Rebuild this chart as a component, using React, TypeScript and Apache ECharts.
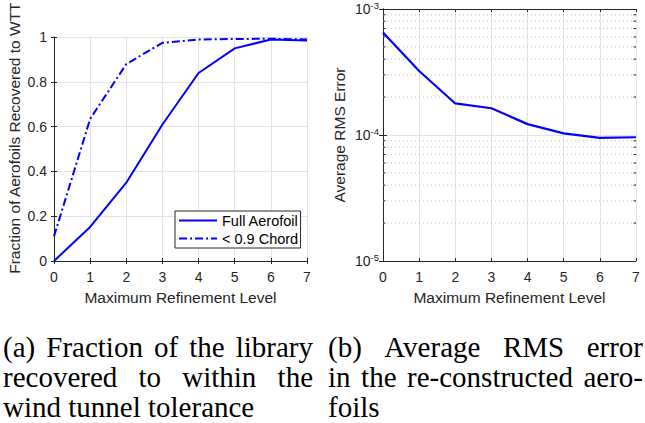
import React, { useEffect, useRef } from "react";
import * as echarts from "echarts";

// Refinement levels on the shared x axis
const levels = [0, 1, 2, 3, 4, 5, 6, 7];

// (a) Fraction of aerofoils recovered to within wind tunnel tolerance
const fullAerofoil = [0, 0.152, 0.35, 0.61, 0.84, 0.95, 0.99, 0.985];
const chordBelow09 = [0.11, 0.635, 0.88, 0.975, 0.99, 0.992, 0.993, 0.99];

// (b) Average RMS error of the reconstructed aerofoils
const rmsError = [6.5e-4, 3.22e-4, 1.78e-4, 1.63e-4, 1.22e-4, 1.03e-4, 9.5e-5, 9.6e-5];

// Minor decade positions on the log axis (2..9 x 10^k)
const minorLogTicks = [
  2e-5, 3e-5, 4e-5, 5e-5, 6e-5, 7e-5, 8e-5, 9e-5,
  2e-4, 3e-4, 4e-4, 5e-4, 6e-4, 7e-4, 8e-4, 9e-4,
];

const seriesNames = ["Full Aerofoil", "< 0.9 Chord"];
const xName = "Maximum Refinement Level";
const yNameA = "Fraction of Aerofoils Recovered to WTT";
const yNameB = "Average RMS Error";

const captionA = ["(a) Fraction of the library", "recovered to within the", "wind tunnel tolerance"];
const captionB = ["(b) Average RMS error", "in the re-constructed aero-", "foils"];

const X_MIN = 0;
const X_MAX = 7;

const SANS = '"Liberation Sans", Arial, Helvetica, sans-serif';
const SERIF = '"Liberation Serif", "Times New Roman", serif';
const AXIS = "#262626";
const GRID = "#e3e3e3";
const BLUE = "#0000ff";

const CAP_SIZE = 29;
const TICK_SIZE = 14;
const NAME_SIZE = 15.5;

function measure(text: string): number {
  const c = document.createElement("canvas").getContext("2d");
  if (!c) return text.length * CAP_SIZE * 0.45;
  c.font = `${CAP_SIZE}px ${SERIF}`;
  return c.measureText(text).width;
}

// Lay out one caption line; justified lines spread their words to fill the column
function captionLine(text: string, x0: number, x1: number, yMid: number, justify: boolean) {
  const base = {
    fontSize: CAP_SIZE,
    fontFamily: SERIF,
    fill: "#000",
    textAlign: "left",
    align: "left",
    textVerticalAlign: "middle",
    verticalAlign: "middle",
  };
  if (!justify) {
    return [{ type: "text", x: x0, y: yMid, silent: true, style: { ...base, text } }];
  }
  const words = text.split(" ");
  const widths = words.map(measure);
  const total = widths.reduce((a, b) => a + b, 0);
  const gap = words.length > 1 ? (x1 - x0 - total) / (words.length - 1) : 0;
  let x = x0;
  return words.map((w, i) => {
    const el = { type: "text", x, y: yMid, silent: true, style: { ...base, text: w } };
    x += widths[i] + gap;
    return el;
  });
}

function captionBlock(lines: string[], x0: number, x1: number, mids: number[]) {
  const out: any[] = [];
  lines.forEach((l, i) => {
    out.push(...captionLine(l, x0, x1, mids[i], i < lines.length - 1));
  });
  return out;
}

function linearAxisCommon() {
  return {
    type: "value" as const,
    axisLine: { show: true, lineStyle: { color: AXIS, width: 1 } },
    axisTick: { show: true, inside: true, length: 3, lineStyle: { color: AXIS } },
  };
}

export default function App() {
  const ref = useRef<HTMLDivElement>(null);

  useEffect(() => {
    document.body.style.margin = "0";
    if (!ref.current) return;
    const chart = echarts.init(ref.current, undefined, { renderer: "svg" });

    const labelStyle = { fontSize: TICK_SIZE, color: AXIS, fontFamily: SANS };
    const nameStyle = { fontSize: NAME_SIZE, color: AXIS, fontFamily: SANS };

    const mids = [347, 377, 407];

    const option: any = {
      animation: false,
      backgroundColor: "#ffffff",
      grid: [
        { left: 54, top: 9, width: 253, height: 252 },
        { left: 383, top: 9, width: 253, height: 252 },
      ],
      legend: {
        data: seriesNames,
        orient: "vertical",
        left: 175,
        top: 211,
        itemWidth: 38,
        itemHeight: 10,
        itemGap: 3,
        padding: [2, 2, 2, 3],
        borderColor: AXIS,
        borderWidth: 1,
        backgroundColor: "#ffffff",
        itemStyle: { color: "rgba(0,0,0,0)", borderWidth: 0, opacity: 0 },
        textStyle: { fontSize: 14.5, color: "#000", fontFamily: SANS },
      },
      xAxis: [
        {
          ...linearAxisCommon(),
          gridIndex: 0,
          min: X_MIN,
          max: X_MAX,
          interval: 1,
          axisLabel: { ...labelStyle, margin: 9 },
          splitLine: { show: true, lineStyle: { color: GRID } },
          name: xName,
          nameLocation: "middle",
          nameGap: 28,
          nameTextStyle: nameStyle,
        },
        {
          ...linearAxisCommon(),
          gridIndex: 0,
          position: "top",
          min: X_MIN,
          max: X_MAX,
          interval: 1,
          axisLabel: { show: false },
          splitLine: { show: false },
        },
        {
          ...linearAxisCommon(),
          gridIndex: 1,
          min: X_MIN,
          max: X_MAX,
          interval: 1,
          axisLabel: { ...labelStyle, margin: 9 },
          splitLine: { show: true, lineStyle: { color: GRID } },
          name: xName,
          nameLocation: "middle",
          nameGap: 28,
          nameTextStyle: nameStyle,
        },
        {
          ...linearAxisCommon(),
          gridIndex: 1,
          position: "top",
          min: X_MIN,
          max: X_MAX,
          interval: 1,
          axisLabel: { show: false },
          splitLine: { show: false },
        },
      ],
      yAxis: [
        {
          ...linearAxisCommon(),
          gridIndex: 0,
          min: 0,
          max: 1,
          interval: 0.2,
          axisLabel: {
            ...labelStyle,
            margin: 7,
            formatter: (v: number) => (v === 0 || v === 1 ? String(v) : v.toFixed(1)),
          },
          splitLine: { show: true, lineStyle: { color: GRID } },
          name: yNameA,
          nameLocation: "middle",
          nameGap: 32,
          nameTextStyle: { ...nameStyle, padding: [0, 0, 0, 22] },
        },
        {
          ...linearAxisCommon(),
          gridIndex: 0,
          position: "right",
          min: 0,
          max: 1,
          interval: 0.2,
          axisLabel: { show: false },
          splitLine: { show: false },
        },
        {
          type: "log",
          logBase: 10,
          gridIndex: 1,
          min: 1e-5,
          max: 1e-3,
          axisLine: { show: true, lineStyle: { color: AXIS, width: 1 } },
          axisTick: { show: true, inside: true, length: 4, lineStyle: { color: AXIS } },
          axisLabel: {
            ...labelStyle,
            margin: 4,
            formatter: (v: number) => `10{sup|${Math.round(Math.log10(v))}}`,
            rich: {
              sup: {
                fontSize: 9.5,
                color: AXIS,
                fontFamily: SANS,
                verticalAlign: "bottom",
                padding: [0, 0, 8, 0],
              },
            },
          },
          splitLine: { show: true, lineStyle: { color: GRID } },
          name: yNameB,
          nameLocation: "middle",
          nameGap: 36,
          nameTextStyle: nameStyle,
        },
        {
          type: "log",
          logBase: 10,
          gridIndex: 1,
          position: "right",
          min: 1e-5,
          max: 1e-3,
          axisLine: { show: true, lineStyle: { color: AXIS, width: 1 } },
          axisTick: { show: true, inside: true, length: 4, lineStyle: { color: AXIS } },
          axisLabel: { show: false },
          splitLine: { show: false },
        },
      ],
      series: [
        {
          name: seriesNames[0],
          type: "line",
          xAxisIndex: 0,
          yAxisIndex: 0,
          data: levels.map((l, i) => [l, fullAerofoil[i]]),
          symbol: "none",
          showSymbol: false,
          clip: false,
          lineStyle: { color: BLUE, width: 2, type: "solid" },
          itemStyle: { color: BLUE },
          z: 5,
        },
        {
          name: seriesNames[1],
          type: "line",
          xAxisIndex: 0,
          yAxisIndex: 0,
          data: levels.map((l, i) => [l, chordBelow09[i]]),
          symbol: "none",
          showSymbol: false,
          clip: false,
          lineStyle: { color: BLUE, width: 2, type: [8, 3, 2, 3] },
          itemStyle: { color: BLUE },
          z: 5,
        },
        {
          name: "minor",
          type: "custom",
          xAxisIndex: 2,
          yAxisIndex: 2,
          silent: true,
          z: 1,
          data: minorLogTicks.map((v) => [X_MIN, v]),
          renderItem: (_p: any, api: any) => {
            const v = api.value(1);
            const a = api.coord([X_MIN, v]);
            const b = api.coord([X_MAX, v]);
            return {
              type: "group",
              children: [
                {
                  type: "line",
                  shape: { x1: a[0], y1: a[1], x2: b[0], y2: b[1] },
                  style: { stroke: "#bdbdbd", lineWidth: 1, lineDash: [1, 3] },
                },
                {
                  type: "line",
                  shape: { x1: a[0], y1: a[1], x2: a[0] + 2.5, y2: a[1] },
                  style: { stroke: AXIS, lineWidth: 1 },
                },
                {
                  type: "line",
                  shape: { x1: b[0] - 2.5, y1: b[1], x2: b[0], y2: b[1] },
                  style: { stroke: AXIS, lineWidth: 1 },
                },
              ],
            };
          },
        },
        {
          name: "RMS",
          type: "line",
          xAxisIndex: 2,
          yAxisIndex: 2,
          data: levels.map((l, i) => [l, rmsError[i]]),
          symbol: "none",
          showSymbol: false,
          clip: false,
          lineStyle: { color: BLUE, width: 2.2 },
          itemStyle: { color: BLUE },
          z: 5,
        },
      ],
      graphic: [
        ...captionBlock(captionA, 3, 313, mids),
        ...captionBlock(captionB, 328, 643, mids),
      ],
    };

    chart.setOption(option);
    return () => chart.dispose();
  }, []);

  return <div ref={ref} style={{ width: 645, height: 423 }} />;
}
